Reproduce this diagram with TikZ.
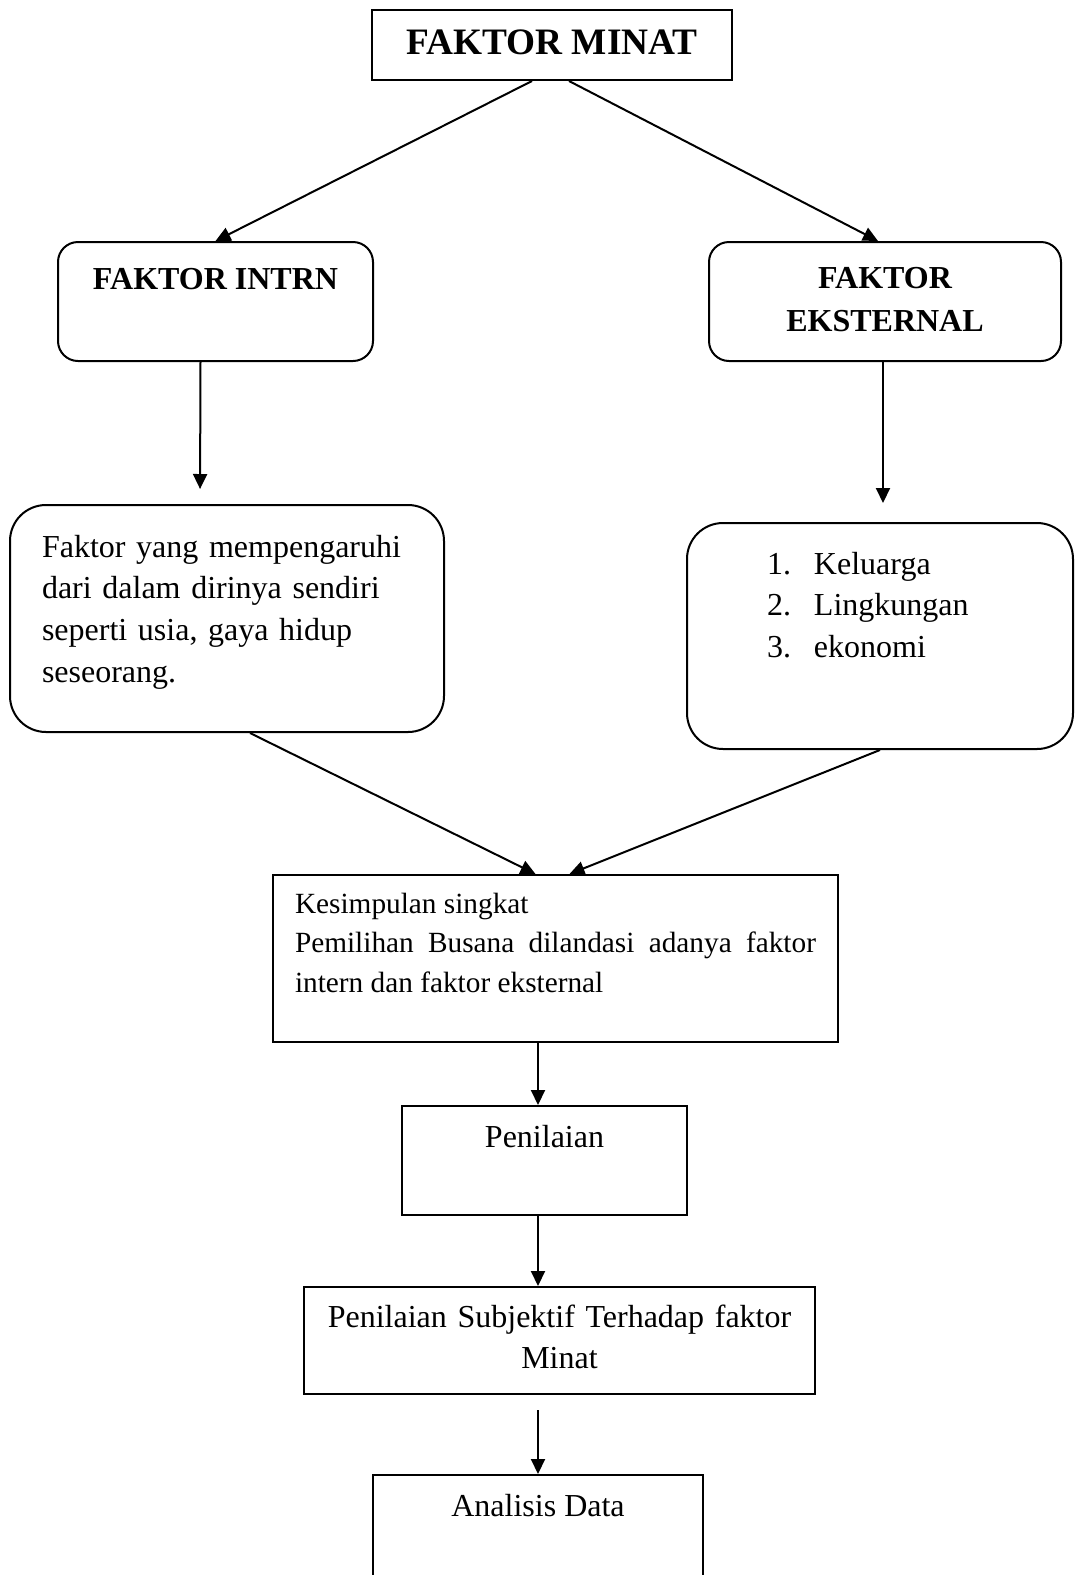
\documentclass[tikz,border=0pt]{standalone}
\usepackage{fontspec}
\setmainfont{Liberation Serif}
\usetikzlibrary{arrows.meta,positioning}
\tikzset{
    -{Triangle[length=15pt,width=14pt]},
    box/.style ={rectangle, draw, inner sep=0pt, font=\fontsize{32}{41.7}\selectfont, text height=21.2pt},
    rbox/.style ={box, rounded corners=20pt},
    bubble/.style ={box, rounded corners=36pt}
}
\begin{document}
\begin{tikzpicture}[x=1pt,y=-1pt,line width=2pt]
        \useasboundingbox (0,0) rectangle (1076,1575);
        \node[box, font=\bfseries\fontsize{37.3}{45}\selectfont, text height=24.7pt, text depth=5.3pt, minimum width=360pt, minimum height=70pt] (minat) at (552,45) {FAKTOR MINAT};
        \node[rbox, font=\bfseries\fontsize{32}{42}\selectfont, text depth=45.8pt, minimum width=315pt, minimum height=119pt] (intern) at (215.5,301.5) {FAKTOR INTRN};
        \node[rbox, font=\bfseries\fontsize{32}{43}\selectfont, text width=330pt, align=center, text depth=48.2pt, minimum width=352pt, minimum height=119pt] (ekstern) at (885,301.5) {FAKTOR\\ EKSTERNAL};
        \node[bubble, text width=370pt, align=left, text depth=144.2pt, minimum width=434pt, minimum height=227pt] (dalam) at (227,618.5) {Faktor yang mempengaruhi\\ dari dalam dirinya sendiri\\ seperti usia, gaya hidup\\ seseorang.};
        \node[bubble, text width=226pt, align=left, text depth=145.2pt, minimum width=386pt, minimum height=226pt] (ekonomi) at (880,636) {\makebox[47pt][l]{1.}Keluarga\\ \makebox[47pt][l]{2.}Lingkungan\\ \makebox[47pt][l]{3.}ekonomi};
        \node[box, font=\fontsize{29.3}{39.5}\selectfont, text height=19.4pt, text width=521pt, align=justify, text depth=109.6pt, minimum width=565pt, minimum height=167pt] (kesimpulan) at (555.5,958.5) {Kesimpulan singkat\\ Pemilihan Busana dilandasi adanya faktor \linebreak intern dan faktor eksternal};
        \node[box, text depth=47.2pt, minimum width=285pt, minimum height=109pt] (penilaian) at (544.5,1160.5) {Penilaian};
        \node[box, font=\fontsize{32}{41}\selectfont, text width=480pt, align=center, text depth=48.2pt, minimum width=511pt, minimum height=107pt] (subjektif) at (559.5,1340.5) {Penilaian Subjektif Terhadap faktor\\ Minat};
        \node[box, text depth=64.2pt, minimum width=330pt, minimum height=125pt] (analisis) at (538,1537.5) {Analisis Data};

        \draw ([xshift=-20pt]minat.south) -- (intern.north);
        \draw ([xshift=17pt]minat.south) -- ([xshift=-7pt]ekstern.north);
        \draw[shorten >=15pt] ([xshift=-15pt]intern.south) -- ([xshift=-27pt]dalam.north);
        \draw[shorten >=19pt] ([xshift=-2pt]ekstern.south) -- ([xshift=3pt]ekonomi.north);
        \draw ([xshift=23pt]dalam.south) -- ([xshift=-20pt]kesimpulan.north);
        \draw (ekonomi.south) -- ([xshift=14pt]kesimpulan.north);
        \draw (kesimpulan.south -| analisis.north) -- (penilaian.north -| analisis.north);
        \draw (penilaian.south -| analisis.north) -- (subjektif.north -| analisis.north);
        \draw[shorten <=15pt] (subjektif.south -| analisis.north) -- (analisis.north);
    \end{tikzpicture}
\end{document}
